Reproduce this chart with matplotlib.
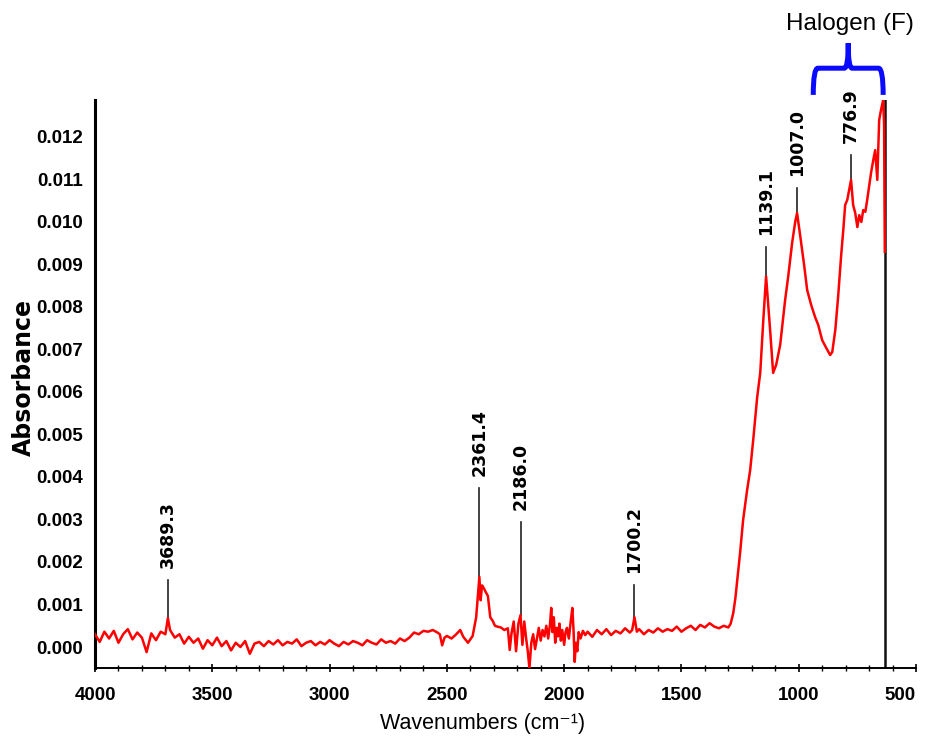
import numpy as np
import matplotlib
matplotlib.use("Agg")
import matplotlib.pyplot as plt
from matplotlib.path import Path
from matplotlib.patches import PathPatch
from matplotlib.transforms import blended_transform_factory

# FTIR spectrum (absorbance stored in units of 1e-3)
wavenumber = [
    4000, 3980, 3960, 3940, 3920, 3900, 3880, 3860, 3840, 3820,
    3800, 3780, 3760, 3740, 3720, 3700, 3689.3, 3680, 3660, 3640,
    3620, 3600, 3580, 3560, 3540, 3520, 3500, 3480, 3460, 3440,
    3420, 3400, 3380, 3360, 3340, 3320, 3300, 3280, 3260, 3240,
    3220, 3200, 3180, 3160, 3140, 3120, 3100, 3080, 3060, 3040,
    3020, 3000, 2980, 2960, 2940, 2920, 2900, 2880, 2860, 2840,
    2820, 2800, 2780, 2760, 2740, 2720, 2700, 2680, 2660, 2640,
    2620, 2600, 2580, 2560, 2540, 2530, 2520, 2510, 2500, 2480,
    2460, 2443, 2430, 2410, 2400, 2390, 2375, 2368, 2361.4, 2356,
    2350, 2342, 2335, 2325, 2315, 2305, 2295, 2285, 2270, 2255,
    2240, 2232, 2225, 2215, 2205, 2195, 2186.0, 2178, 2170, 2162,
    2155, 2148, 2140, 2132, 2124, 2116, 2108, 2100, 2092, 2084,
    2076, 2068, 2060, 2055, 2050, 2044, 2038, 2032, 2026, 2020,
    2014, 2008, 2000, 1994, 1988, 1980, 1972, 1965, 1960, 1955,
    1950, 1944, 1938, 1930, 1920, 1910, 1900, 1880, 1860, 1840,
    1820, 1800, 1780, 1760, 1740, 1720, 1710, 1700.2, 1690, 1680,
    1660, 1640, 1620, 1600, 1580, 1560, 1540, 1520, 1500, 1480,
    1460, 1440, 1420, 1400, 1380, 1360, 1340, 1320, 1300, 1290,
    1279, 1270, 1262, 1250, 1237, 1220, 1207, 1194, 1177, 1164,
    1151, 1139.1, 1122, 1109, 1096, 1079, 1058, 1045, 1028, 1015,
    1007.0, 994, 977, 964, 947, 930, 917, 900, 883, 866,
    857, 844, 832, 819, 810, 802, 793, 785, 776.9, 768,
    759, 750, 742, 733, 725, 716, 708, 699, 691, 682,
    674, 665, 657, 649, 640, 636, 633,
]
absorbance_milli = [
    0.30, 0.12, 0.36, 0.20, 0.38, 0.10, 0.30, 0.42, 0.18, 0.34,
    0.22, -0.12, 0.32, 0.16, 0.36, 0.30, 0.68, 0.40, 0.22, 0.30,
    0.08, 0.24, 0.10, 0.20, -0.04, 0.16, 0.04, 0.22, 0.02, 0.14,
    -0.08, 0.10, 0.00, 0.14, -0.16, 0.08, 0.12, 0.02, 0.14, 0.06,
    0.16, 0.04, 0.12, 0.08, 0.18, 0.02, 0.10, 0.14, 0.04, 0.12,
    0.06, 0.16, 0.08, 0.02, 0.12, 0.06, 0.14, 0.10, 0.04, 0.16,
    0.10, 0.06, 0.18, 0.10, 0.14, 0.08, 0.20, 0.14, 0.22, 0.34,
    0.30, 0.38, 0.36, 0.40, 0.34, 0.30, 0.04, 0.22, 0.26, 0.20,
    0.30, 0.40, 0.24, 0.10, 0.18, 0.26, 0.70, 1.20, 1.65, 1.10,
    1.45, 1.38, 1.30, 1.20, 0.70, 0.62, 0.50, 0.48, 0.46, 0.40,
    0.44, -0.07, 0.30, 0.60, -0.10, 0.55, 0.75, 0.05, 0.60, 0.20,
    -0.10, -0.50, 0.10, 0.30, -0.05, 0.20, 0.45, 0.15, 0.40, 0.25,
    0.50, 0.20, 0.55, 0.92, 0.35, 0.70, 0.10, 0.45, 0.25, 0.55,
    0.15, 0.40, 0.05, 0.35, 0.45, 0.20, 0.60, 0.92, 0.40, -0.35,
    0.10, -0.10, 0.35, 0.20, 0.38, 0.28, 0.36, 0.24, 0.40, 0.30,
    0.42, 0.28, 0.38, 0.32, 0.44, 0.34, 0.40, 0.70, 0.36, 0.42,
    0.30, 0.40, 0.34, 0.44, 0.36, 0.42, 0.38, 0.48, 0.36, 0.44,
    0.50, 0.40, 0.52, 0.46, 0.56, 0.48, 0.44, 0.50, 0.46, 0.55,
    0.80, 1.15, 1.58, 2.21, 2.99, 3.69, 4.16, 4.87, 5.88, 6.45,
    7.69, 8.72, 7.46, 6.45, 6.64, 7.11, 8.16, 8.71, 9.51, 10.00,
    10.21, 9.69, 8.99, 8.40, 8.05, 7.76, 7.58, 7.22, 7.04, 6.87,
    6.94, 7.46, 8.24, 9.22, 9.81, 10.40, 10.52, 10.75, 10.99, 10.40,
    10.21, 9.88, 10.16, 10.00, 10.28, 10.24, 10.52, 10.87, 11.18, 11.46,
    11.69, 10.99, 12.40, 12.64, 12.87, 12.30, 9.30,
]

# labelled peaks and the top of each marker line (1e-3 units)
peak_positions = [3689.3, 2361.4, 2186.0, 1700.2, 1139.1, 1007.0, 776.9]
peak_marker_tops = [1.58, 3.74, 2.94, 1.46, 9.41, 10.80, 11.58]

cutoff_wavenumber = 631
halogen_range = (938, 640)
halogen_label = "Halogen (F)"

x_ticks = [4000, 3500, 3000, 2500, 2000, 1500, 1000, 500]
y_ticks = np.arange(0, 0.0121, 0.001)

sans = ["Liberation Sans", "DejaVu Sans"]

wn = np.array(wavenumber)
ab = np.array(absorbance_milli) / 1000.0

fig = plt.figure(figsize=(9.26, 7.44), dpi=100)
ax = fig.add_axes([95 / 926, 1 - 668 / 744, 821 / 926, 568 / 744])

ax.plot(wn, ab, color="#ff0000", lw=1.8, zorder=3)
ax.axvline(cutoff_wavenumber, color="#111111", lw=1.8, zorder=2)

for p, top in zip(peak_positions, peak_marker_tops):
    base = np.interp(p, wn[::-1], ab[::-1])
    ax.plot([p, p], [base, top / 1000.0], color="#222222", lw=1.2, zorder=2)
    ax.annotate(f"{p:.1f}", xy=(p, top / 1000.0), xytext=(0, 8.5),
                textcoords="offset points", rotation=90, ha="center",
                va="bottom", fontsize=12.5, fontweight="bold",
                family="DejaVu Sans")

ax.set_xlim(4000, 500)
ax.set_ylim(-0.000494, 0.01287)

ax.spines["top"].set_visible(False)
ax.spines["right"].set_visible(False)
ax.spines["left"].set_linewidth(2.2)
ax.spines["bottom"].set_linewidth(1.4)

ax.set_xticks(x_ticks)
ax.set_xticks(np.arange(500, 4001, 100), minor=True)
ax.set_yticks(y_ticks)
ax.set_yticklabels([f"{v:.3f}" for v in y_ticks])
ax.tick_params(axis="x", which="major", direction="inout", length=6, width=1.2, pad=11)
ax.tick_params(axis="x", which="minor", direction="inout", length=4, width=1.0)
ax.tick_params(axis="y", length=0, pad=8.5)
for lab in ax.get_xticklabels() + ax.get_yticklabels():
    lab.set_family(sans)
    lab.set_fontweight("bold")
    lab.set_fontsize(13.5)
# last label sits against the figure edge
ax.get_xticklabels()[-1].set_horizontalalignment("right")

ax.set_xlabel("Wavenumbers (cm\u207b\u00b9)", family=sans, fontsize=15.5, va="center")
ax.xaxis.set_label_coords(0.4726, -0.097)
ax.set_ylabel("Absorbance", family="DejaVu Sans", fontweight="bold", fontsize=17, va="center")
ax.yaxis.set_label_coords(-0.0865, 0.512)

# curly brace over the halogen band
trans = blended_transform_factory(ax.transData, ax.transAxes)
left, right = halogen_range
mid = (left + right) / 2
y_end, y_bar, y_tip = 1.009, 1.056, 1.100
verts = [(left, y_end), (left, y_bar), (left - 20, y_bar),
         (mid + 17, y_bar), (mid, y_bar), (mid, y_tip),
         (mid, y_bar), (mid - 17, y_bar),
         (right + 20, y_bar), (right, y_bar), (right, y_end)]
codes = [Path.MOVETO, Path.CURVE3, Path.CURVE3,
         Path.LINETO, Path.CURVE3, Path.CURVE3,
         Path.CURVE3, Path.CURVE3,
         Path.LINETO, Path.CURVE3, Path.CURVE3]
brace = PathPatch(Path(verts, codes), transform=trans, fill=False,
                  edgecolor="#0a0aff", lw=3.6, clip_on=False)
ax.add_patch(brace)
ax.text(mid - 9, 1.134, halogen_label, transform=trans, ha="center", va="center",
        fontsize=17.5, family="Liberation Sans")

fig.savefig("out.png", dpi=100)
